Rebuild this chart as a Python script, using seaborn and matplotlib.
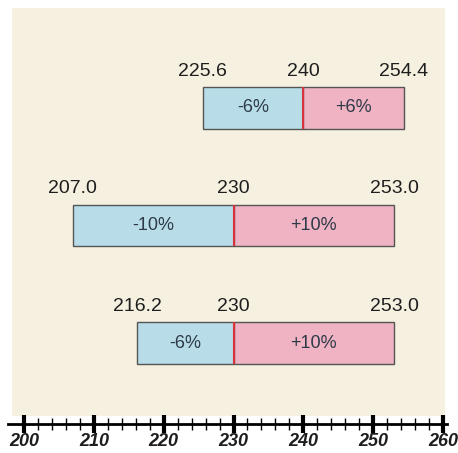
import matplotlib.pyplot as plt
import seaborn as sns
from matplotlib.patches import Rectangle

# Data: base value with lower / upper change
base = [240, 230, 230]
low = [225.6, 207.0, 216.2]
high = [254.4, 253.0, 253.0]
low_labels = ['-6%', '-10%', '-6%']
high_labels = ['+6%', '+10%', '+10%']
base_labels = ['240', '230', '230']
low_text = ['225.6', '207.0', '216.2']
high_text = ['254.4', '253.0', '253.0']
ticks = [200, 210, 220, 230, 240, 250, 260]

sns.set_theme(style="white")
plt.rcParams['font.family'] = ['Liberation Sans', 'DejaVu Sans']

W, H = 458, 453
fig = plt.figure(figsize=(W / 100, H / 100), dpi=100)
# cream panel behind the chart
fig.patches.append(Rectangle((12 / W, 1 - 416 / H), (445 - 12) / W, (416 - 8) / H,
                             transform=fig.transFigure, facecolor='#F5F0DF',
                             edgecolor='none', zorder=-1))
ax = fig.add_axes([8 / W, 1 - 424 / H, (447 - 8) / W, (424 - 8) / H])
ax.set_facecolor('none')
ax.set_zorder(2)

blue = '#B8DDE8'
pink = '#F0B3C3'
h = 0.35
ys = list(range(len(base)))
for y, b, lo, hi in zip(ys, base, low, high):
    ax.barh(y, b - lo, left=lo, height=h, color=blue, edgecolor='#555555', linewidth=1, zorder=2)
    ax.barh(y, hi - b, left=b, height=h, color=pink, edgecolor='#555555', linewidth=1, zorder=2)
    ax.vlines(b, y - h / 2, y + h / 2, color='#D9323A', linewidth=1.5, zorder=3)

for y, b, lo, hi, ll, hl, bt, lt, ht in zip(ys, base, low, high, low_labels, high_labels,
                                             base_labels, low_text, high_text):
    ax.text((lo + b) / 2, y, ll, ha='center', va='center', fontsize=13, color='#2E3A48', zorder=4)
    ax.text((b + hi) / 2, y, hl, ha='center', va='center', fontsize=13, color='#2E3A48', zorder=4)
    ty = y - h / 2 - 0.065
    for xv, t in [(lo, lt), (b, bt), (hi, ht)]:
        ax.text(xv, ty, t, ha='center', va='bottom', fontsize=14, color='#1E1E1E', zorder=4)

ax.set_xlim(200 - 16 / 6.98, 260 + 4 / 6.98)
ax.set_ylim(2 + 81 / 117.5, -100 / 117.5)

for s in ['top', 'left', 'right']:
    ax.spines[s].set_visible(False)
ax.spines['bottom'].set_linewidth(2)
ax.spines['bottom'].set_color('black')
ax.set_yticks([])
ax.set_xticks(ticks)
ax.set_xticks(range(200, 261, 2), minor=True)
ax.tick_params(axis='x', which='major', direction='inout', length=13, width=3,
               color='black', pad=0, labelsize=13, bottom=True)
ax.tick_params(axis='x', which='minor', direction='inout', length=8, width=1,
               color='black', bottom=True)
for lab in ax.get_xticklabels():
    lab.set_fontweight('bold')
    lab.set_fontstyle('italic')
    lab.set_color('#1E1E1E')

fig.savefig('out.png', dpi=100)
